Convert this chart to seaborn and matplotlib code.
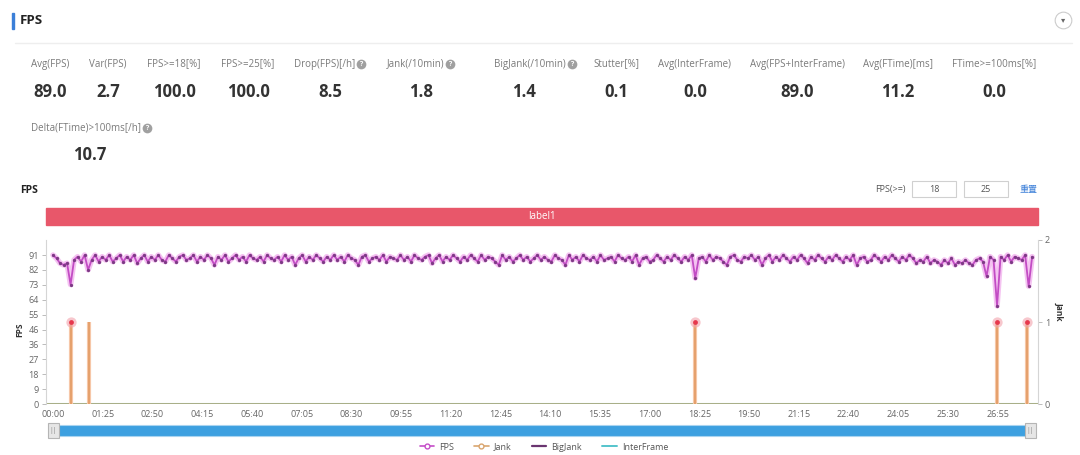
import numpy as np
import pandas as pd
import seaborn as sns
import matplotlib.pyplot as plt
from matplotlib.lines import Line2D
from matplotlib.patches import Rectangle

# summary numbers shown above the chart
stat_names = ["Avg(FPS)", "Var(FPS)", "FPS>=18[%]", "FPS>=25[%]", "Drop(FPS)[/h]",
              "Jank(/10min)", "BigJank(/10min)", "Stutter[%]", "Avg(InterFrame)",
              "Avg(FPS+InterFrame)", "Avg(FTime)[ms]", "FTime>=100ms[%]",
              "Delta(FTime)>100ms[/h]"]
stat_values = ["89.0", "2.7", "100.0", "100.0", "8.5", "1.8", "1.4", "0.1", "0.0",
               "89.0", "11.2", "0.0", "10.7"]
stat_help = [False, False, False, False, True, True, True, False, False, False, False, False, True]

# FPS samples, one every 6 s
fps_step = 6
fps_values = [
    91, 89, 86, 85, 86, 73, 88, 90, 87, 91, 82, 88, 91, 87, 90, 88, 91, 87, 89, 91,
    87, 90, 88, 91, 86, 89, 91, 87, 90, 88, 91, 88, 87, 91, 89, 87, 90, 91, 88, 89,
    91, 87, 90, 88, 91, 89, 85, 90, 88, 91, 87, 89, 91, 88, 90, 87, 91, 89, 88, 90,
    87, 91, 89, 88, 90, 87, 91, 88, 90, 85, 89, 91, 87, 90, 88, 91, 89, 87, 90, 88,
    91, 88, 90, 87, 91, 89, 88, 85, 90, 91, 87, 89, 90, 88, 91, 87, 90, 89, 88, 91,
    88, 90, 87, 91, 89, 88, 90, 91, 86, 89, 91, 87, 90, 88, 91, 89, 87, 90, 88, 91,
    89, 87, 91, 88, 90, 89, 87, 85, 91, 88, 90, 87, 89, 91, 88, 90, 87, 89, 91, 88,
    90, 88, 87, 91, 89, 88, 85, 91, 88, 90, 87, 91, 89, 88, 90, 87, 91, 88, 89, 90,
    87, 91, 89, 88, 90, 87, 91, 85, 89, 90, 87, 88, 91, 89, 87, 90, 88, 91, 89, 87,
    90, 88, 91, 77, 89, 90, 87, 91, 88, 90, 89, 87, 85, 90, 91, 88, 87, 90, 89, 91,
    88, 90, 85, 89, 91, 87, 90, 88, 91, 89, 87, 90, 88, 91, 89, 86, 90, 88, 91, 89,
    87, 90, 88, 91, 89, 87, 90, 88, 91, 85, 89, 90, 87, 88, 91, 89, 87, 90, 88, 91,
    89, 87, 90, 88, 91, 89, 86, 88, 87, 90, 86, 88, 87, 85, 88, 86, 89, 85, 87, 86,
    88, 86, 85, 88, 89, 87, 78, 90, 88, 60, 90, 88, 91, 87, 90, 89, 88, 91, 72, 90,
]
fps_t = np.arange(len(fps_values)) * fps_step

jank_times = [30, 62, 1098, 1614, 1666]
jank_values = [1, 1, 1, 1, 1]
bigjank_times = [30, 1098, 1614, 1666]
bigjank_values = [1, 1, 1, 1]
interframe_value = 0.0

xtick_labels = ["00:00", "01:25", "02:50", "04:15", "05:40", "07:05", "08:30", "09:55",
                "11:20", "12:45", "14:10", "15:35", "17:00", "18:25", "19:50", "21:15",
                "22:40", "24:05", "25:30", "26:55"]
xtick_step = 85
ytick_labels = ["0", "9", "18", "27", "36", "46", "55", "64", "73", "82", "91"]
ytick_step = 9.1

sns.set_style("white")
plt.rcParams['font.family'] = ['Open Sans', 'Noto Sans CJK SC', 'DejaVu Sans']

W, H = 1080, 455
fig = plt.figure(figsize=(10.8, 4.55), dpi=100)


def fx(px):
    return px / W


def fy(py):
    return 1 - py / H


def dot(px, py, size, fc, ec="none", lw=0.0):
    # round marker placed in figure pixels
    fig.add_artist(Line2D([fx(px)], [fy(py)], marker="o", markersize=size, markerfacecolor=fc,
                          markeredgecolor=ec, markeredgewidth=lw, transform=fig.transFigure))


# header
fig.patches.append(Rectangle((fx(12), fy(29)), 2 / W, 16 / H, transform=fig.transFigure,
                             color="#3b7fd8"))
fig.text(fx(20), fy(20), "FPS", fontsize=9.5, fontweight="bold", color="#222", va="center")
fig.add_artist(Line2D([fx(15), fx(1072)], [fy(43), fy(43)], color="#eeeeee", lw=1))
dot(1063, 20, 12, "white", "#cccccc", 0.8)
fig.text(fx(1063), fy(20), "▾", fontsize=6, color="#666", ha="center", va="center",
         family="DejaVu Sans")

# stats
stat_x = [50, 108, 174, 248, 330, 421, 524, 616, 695, 797, 898, 994, 90]
stat_row = [0] * 12 + [1]
icon_x = {4: 361, 5: 450, 6: 572, 12: 147}
for i, (name, val) in enumerate(zip(stat_names, stat_values)):
    ly = 64 + stat_row[i] * 64
    vy = 92 + stat_row[i] * 63
    if stat_help[i]:
        ix = icon_x[i]
        fig.text(fx(ix - 6), fy(ly), name, fontsize=7, color="#7a7a7a", ha="right", va="center")
        dot(ix, ly, 7, "#a0a0a0")
        fig.text(fx(ix), fy(ly), "?", fontsize=5, color="white", ha="center", va="center",
                 fontweight="bold")
    else:
        fig.text(fx(stat_x[i]), fy(ly), name, fontsize=7, color="#7a7a7a", ha="center", va="center")
    fig.text(fx(stat_x[i]), fy(vy), val, fontsize=12, fontweight="bold", color="#333",
             ha="center", va="center")

# chart title + controls
fig.text(fx(20), fy(190), "FPS", fontsize=7.5, fontweight="bold", color="#222", va="center")
fig.text(fx(906), fy(189), "FPS(>=)", fontsize=6.5, color="#555", ha="right", va="center")
for bx, txt in [(912, "18"), (964, "25")]:
    fig.patches.append(Rectangle((fx(bx), fy(197)), 44 / W, 16 / H, transform=fig.transFigure,
                                 fc="white", ec="#d0d0d0", lw=0.8))
    fig.text(fx(bx + 22), fy(189), txt, fontsize=6.5, color="#555", ha="center", va="center")
fig.text(fx(1029), fy(189), "重置", fontsize=6.5, color="#3b7fd8", ha="center", va="center")

# label band
fig.patches.append(Rectangle((fx(46), fy(225)), 992 / W, 17 / H, transform=fig.transFigure,
                             color="#e8576a"))
fig.text(fx(542), fy(216.5), "label1", fontsize=7, color="white", ha="center", va="center")

# main chart
x0, x1 = -12, 1684
ax = fig.add_axes([fx(46), fy(404), 992 / W, 164 / H])
ax2 = ax.twinx()
ax.set_zorder(ax2.get_zorder() + 1)
ax.patch.set_visible(False)

df = pd.DataFrame({"t": fps_t, "fps": fps_values})
sns.lineplot(data=df, x="t", y="fps", ax=ax, color="#ee9be8", lw=4, alpha=0.6, zorder=4)
sns.lineplot(data=df, x="t", y="fps", ax=ax, color="#c24cc4", lw=1.3, marker="o",
             markersize=2.4, markeredgewidth=0, markerfacecolor="#7e3a86", zorder=5)

ax2.axhline(interframe_value, color="#6cc6c0", lw=2.2, zorder=1)
ax2.axhline(0, color="#c8a46c", lw=1.2, alpha=0.8, zorder=2)
ax2.vlines(jank_times, 0, jank_values, color="#f6c7a8", lw=3, zorder=2)
ax2.vlines(jank_times, 0, jank_values, color="#e29a62", lw=1.2, zorder=3)
ax2.scatter(bigjank_times, bigjank_values, s=55, color="#f3a3ad", alpha=0.6, lw=0, zorder=4)
ax2.scatter(bigjank_times, bigjank_values, s=12, color="#e6384d", lw=0, zorder=5)

ax.set_xlim(x0, x1)
ax.set_ylim(0, 100.2)
ax2.set_ylim(0, 2)
ax.set_xticks(np.arange(len(xtick_labels)) * xtick_step)
ax.set_xticklabels(xtick_labels)
ax.set_yticks(np.arange(len(ytick_labels)) * ytick_step)
ax.set_yticklabels(ytick_labels)
ax2.set_yticks([0, 1, 2])
ax2.set_yticklabels(["0", "1", "2"])
ax.set_xlabel("")
ax.set_ylabel("")
for a in (ax, ax2):
    a.tick_params(labelsize=6.5, labelcolor="#666", color="#bbbbbb", length=3, width=0.7, pad=2)
    for s in a.spines.values():
        s.set_visible(False)
ax.tick_params(axis="x", direction="in", length=3, pad=4)
ax.tick_params(axis="y", left=True, length=3)
ax2.tick_params(axis="y", right=True, length=3)
ax.spines["left"].set_visible(True)
ax.spines["left"].set_color("#d5d5d5")
ax2.spines["right"].set_visible(True)
ax2.spines["right"].set_color("#d5d5d5")

fig.text(fx(20), fy(330), "FPS", fontsize=6, fontweight="bold", color="#333", rotation=90,
         ha="center", va="center")
fig.text(fx(1059), fy(311), "Jank", fontsize=6, fontweight="bold", color="#333", rotation=270,
         ha="center", va="center")

# zoom slider under the chart
fig.patches.append(Rectangle((fx(52), fy(436)), 978 / W, 11 / H, transform=fig.transFigure,
                             fc="#3da0e0", ec="#a9d4f0", lw=0.8))
for hx in (48, 1025):
    fig.patches.append(Rectangle((fx(hx), fy(438)), 11 / W, 15 / H, transform=fig.transFigure,
                                 fc="#e6e6e6", ec="#b5b5b5", lw=0.8))
    fig.text(fx(hx + 5.5), fy(430.5), "||", fontsize=5, color="#888", ha="center", va="center")

# legend
handles = [
    Line2D([], [], color="#c54ec8", lw=1.2, marker="o", markersize=3.5, markerfacecolor="white"),
    Line2D([], [], color="#d9a56e", lw=1.2, marker="o", markersize=3.5, markerfacecolor="white"),
    Line2D([], [], color="#6a3570", lw=1.6),
    Line2D([], [], color="#55c4cc", lw=1.4),
]
fig.legend(handles, ["FPS", "Jank", "BigJank", "InterFrame"], loc="center",
           bbox_to_anchor=(fx(544), fy(447)), ncol=4, frameon=False, fontsize=6.5,
           handlelength=1.6, columnspacing=2.2, handletextpad=0.6, labelcolor="#555")

fig.savefig("out.png", dpi=100)
